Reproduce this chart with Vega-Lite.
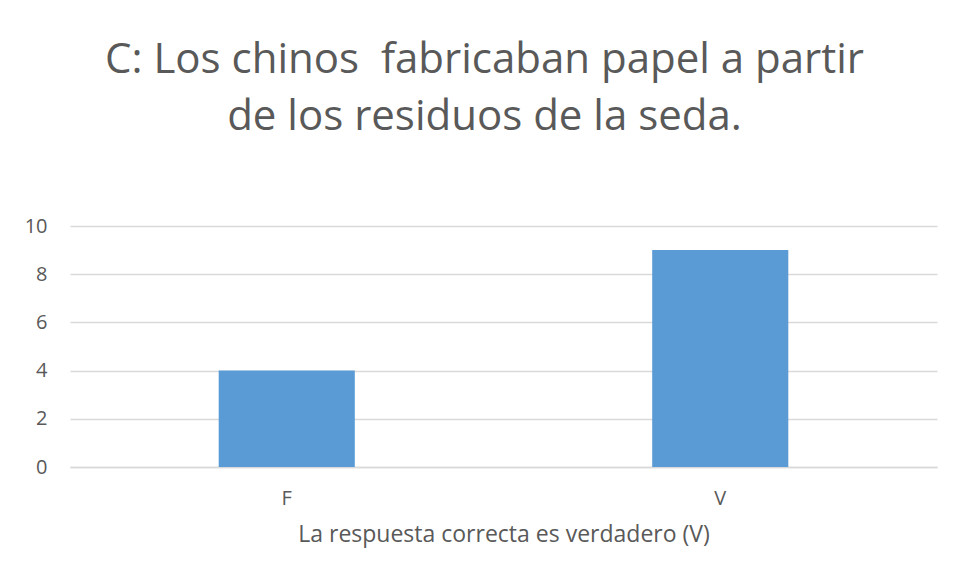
{
  "$schema": "https://vega.github.io/schema/vega-lite/v6.json",
  "autosize": {"type": "none"},
  "padding": {"left": 70, "top": 226, "right": 19, "bottom": 110},
  "width": 867,
  "height": 241,
  "background": "white",
  "title": {
    "text": ["C: Los chinos \u00a0fabricaban papel a partir", "de los residuos de la seda."],
    "anchor": "middle",
    "frame": "group",
    "dx": -19,
    "offset": 77,
    "font": "Open Sans",
    "fontSize": 42,
    "fontWeight": "normal",
    "color": "#595959",
    "lineHeight": 57
  },
  "data": {"values": [
    {"respuesta": "F", "cantidad": 4},
    {"respuesta": "V", "cantidad": 9}
  ]},
  "mark": {"type": "bar", "color": "#5B9BD5"},
  "encoding": {
    "x": {
      "field": "respuesta",
      "type": "nominal",
      "scale": {"paddingInner": 0.686, "paddingOuter": 0.343},
      "axis": {
        "title": "La respuesta correcta es verdadero (V)",
        "labelAngle": 0,
        "ticks": false,
        "domainColor": "#d9d9d9",
        "domainWidth": 1.5,
        "labelPadding": 21,
        "labelFont": "Open Sans",
        "labelFontSize": 20,
        "labelColor": "#595959",
        "titleFont": "Open Sans",
        "titleFontSize": 23,
        "titleFontWeight": "normal",
        "titleColor": "#595959",
        "titlePadding": 15
      }
    },
    "y": {
      "field": "cantidad",
      "type": "quantitative",
      "scale": {"domain": [0, 10]},
      "axis": {
        "title": null,
        "values": [0, 2, 4, 6, 8, 10],
        "ticks": false,
        "domain": false,
        "gridColor": "#d9d9d9",
        "gridWidth": 1.5,
        "labelPadding": 23,
        "labelFont": "Open Sans",
        "labelFontSize": 20,
        "labelColor": "#595959"
      }
    }
  },
  "config": {"view": {"stroke": null}}
}
